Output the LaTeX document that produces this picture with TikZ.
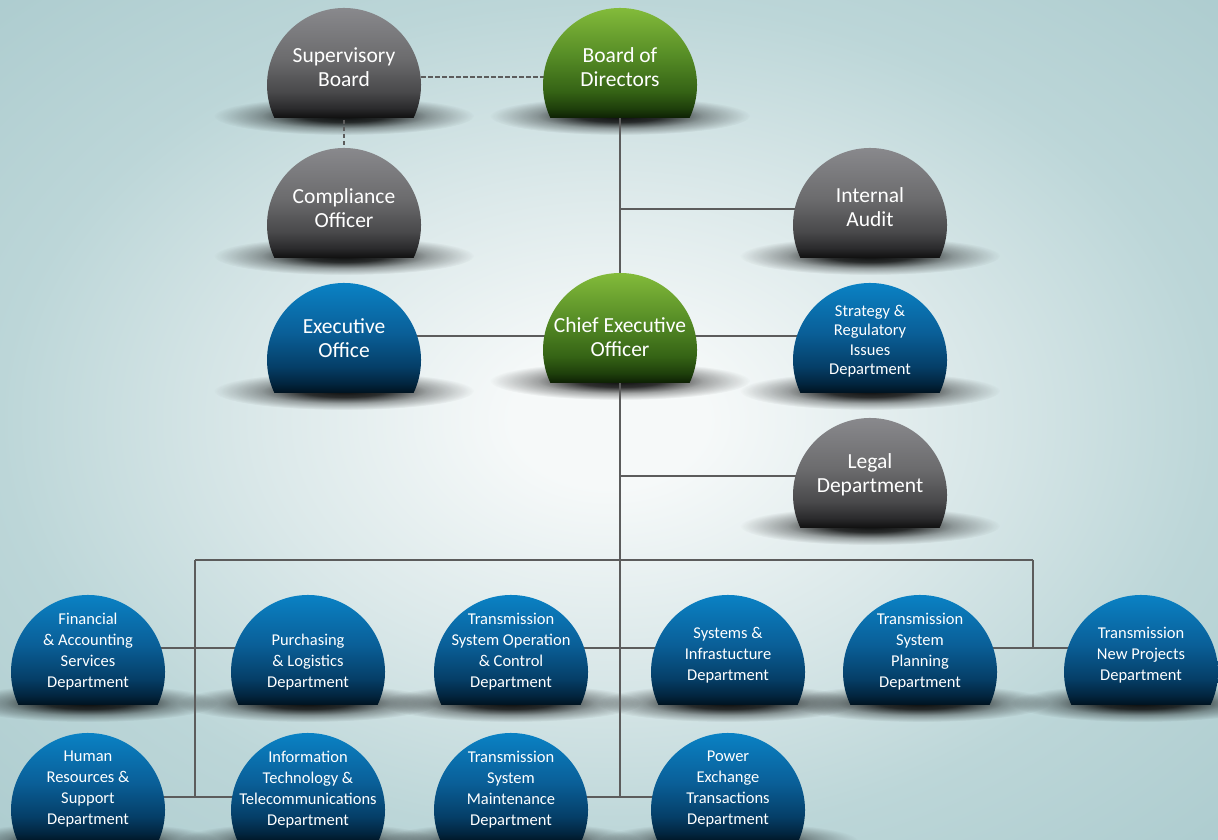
\documentclass[tikz,border=0pt]{standalone}
\usepackage{fontspec}
\setmainfont{Carlito}
\usetikzlibrary{calc,fadings}
\definecolor{bgA}{HTML}{F6F9F9}
\definecolor{bgB}{HTML}{DCE9EA}
\definecolor{bgC}{HTML}{BCD6D8}
\definecolor{bgD}{HTML}{ADCCCF}
\definecolor{bluA}{HTML}{00121F}
\definecolor{bluB}{HTML}{02253F}
\definecolor{bluC}{HTML}{053F68}
\definecolor{bluD}{HTML}{0A5F98}
\definecolor{bluE}{HTML}{0A89CE}
\definecolor{gryA}{HTML}{0F0F0F}
\definecolor{gryB}{HTML}{2A2A2C}
\definecolor{gryC}{HTML}{4A4A4C}
\definecolor{gryD}{HTML}{6C6C6E}
\definecolor{gryE}{HTML}{8F8F93}
\definecolor{grnA}{HTML}{0D1F04}
\definecolor{grnB}{HTML}{1E3F0B}
\definecolor{grnC}{HTML}{356315}
\definecolor{grnD}{HTML}{548A25}
\definecolor{grnE}{HTML}{8DC63F}
\definecolor{linec}{HTML}{5C5C5C}
\pgfdeclareverticalshading{bluedome}{100bp}{color(0bp)=(bluA); color(25bp)=(bluA); color(29bp)=(bluB); color(36bp)=(bluC); color(50bp)=(bluD); color(75bp)=(bluE); color(100bp)=(bluE)}
\pgfdeclareverticalshading{graydome}{100bp}{color(0bp)=(gryA); color(25bp)=(gryA); color(29bp)=(gryB); color(36bp)=(gryC); color(50bp)=(gryD); color(75bp)=(gryE); color(100bp)=(gryE)}
\pgfdeclareverticalshading{greendome}{100bp}{color(0bp)=(grnA); color(25bp)=(grnA); color(29bp)=(grnB); color(36bp)=(grnC); color(50bp)=(grnD); color(75bp)=(grnE); color(100bp)=(grnE)}
\pgfdeclareradialshading{bgshade}{\pgfpointorigin}{color(0bp)=(bgA); color(4bp)=(bgA); color(14bp)=(bgB); color(25bp)=(bgC); color(36bp)=(bgD); color(50bp)=(bgD)}
\pgfdeclareradialshading{shfade}{\pgfpointorigin}{color(0bp)=(white); color(8bp)=(white!85!black); color(16bp)=(white!35!black); color(25bp)=(black); color(50bp)=(black)}
\pgfdeclarefading{shadowfade}{\pgfuseshading{shfade}}
\pgfdeclarelayer{bglayer}
\pgfdeclarelayer{shadowlayer}
\pgfdeclarelayer{linelayer}
\pgfsetlayers{bglayer,shadowlayer,linelayer,main}
\tikzset{
  domecircle/.style={circle, minimum size=154pt, inner sep=0pt},
  bigtxt/.style={text=white, align=center, inner sep=0pt, font=\fontsize{21.5}{24}\selectfont},
  smalltxt/.style={text=white, align=center, inner sep=0pt, font=\fontsize{16.5}{21}\selectfont},
  strattxt/.style={text=white, align=center, inner sep=0pt, font=\fontsize{16.5}{19.5}\selectfont},
  conn/.style={draw=linec, line width=2pt},
  dconn/.style={draw=linec, line width=1.5pt, dash pattern=on 4.5pt off 2.5pt},
}
\newcommand\orgdome[7]{%
  \begin{pgfonlayer}{shadowlayer}
    \fill[black, opacity=0.95, path fading=shadowfade] (#2,#3-31) ellipse [x radius=130, y radius=19];
  \end{pgfonlayer}
  \shade[shading=#4] (#2,#3) ++(-25.37:77) arc[start angle=-25.37, end angle=205.37, radius=77] -- cycle;
  \node[domecircle] (#1) at (#2,#3) {};
  \node[#7] (#1-t) at ([yshift=#5]#1.center) {#6};
}
\begin{document}
\begin{tikzpicture}[x=1pt,y=1pt]
\useasboundingbox (0,0) rectangle (1218,840);
\begin{pgfonlayer}{bglayer}
  \shade[shading=bgshade] (0,0) rectangle (1218,840);
\end{pgfonlayer}

\orgdome{sup}{344}{755}{graydome}{18pt}{Supervisory\\Board}{bigtxt}
\orgdome{bod}{620}{755}{greendome}{18pt}{Board of\\Directors}{bigtxt}
\orgdome{comp}{344}{615}{graydome}{17pt}{Compliance\\Officer}{bigtxt}
\orgdome{audit}{870}{615}{graydome}{18pt}{Internal\\Audit}{bigtxt}
\orgdome{exec}{344}{480}{bluedome}{22pt}{Executive\\Office}{bigtxt}
\orgdome{ceo}{620}{490}{greendome}{12.5pt}{Chief Executive\\Officer}{bigtxt}
\orgdome{strat}{870}{480}{bluedome}{19pt}{Strategy \&\\Regulatory\\Issues\\Department}{strattxt}
\orgdome{legal}{870}{345}{graydome}{20pt}{Legal\\Department}{bigtxt}

\orgdome{fin}{88}{168}{bluedome}{20.5pt}{Financial\\\& Accounting\\Services\\Department}{smalltxt}
\orgdome{pur}{308}{168}{bluedome}{10pt}{Purchasing\\\& Logistics\\Department}{smalltxt}
\orgdome{tso}{511}{168}{bluedome}{20.5pt}{Transmission\\System Operation\\\& Control\\Department}{smalltxt}
\orgdome{sys}{728}{168}{bluedome}{17pt}{Systems \&\\Infrastucture\\Department}{smalltxt}
\orgdome{plan}{920}{168}{bluedome}{20.5pt}{Transmission\\System\\Planning\\Department}{smalltxt}
\orgdome{newp}{1141}{168}{bluedome}{17pt}{Transmission\\New Projects\\Department}{smalltxt}

\orgdome{hr}{88}{30}{bluedome}{20.5pt}{Human\\Resources \&\\Support\\Department}{smalltxt}
\orgdome{it}{308}{30}{bluedome}{20.5pt}{Information\\Technology \&\\Telecommunications\\Department}{smalltxt}
\orgdome{tsm}{511}{30}{bluedome}{20.5pt}{Transmission\\System\\Maintenance\\Department}{smalltxt}
\orgdome{pow}{728}{30}{bluedome}{20.5pt}{Power\\Exchange\\Transactions\\Department}{smalltxt}

\coordinate (busL) at (195,280);
\coordinate (busR) at (1033,280);

\begin{pgfonlayer}{linelayer}
  \draw[dconn] ($(sup.center)+(0,8)$) -- ($(bod.center)+(0,8)$);
  \draw[dconn] (sup.center) -- (comp.center);
  \draw[conn] (bod.center) -- (ceo.center);
  \draw[conn] ($(bod.center |- audit.center)+(0,16)$) -- ($(audit.center)+(0,16)$);
  \draw[conn] ($(exec.center)+(0,24)$) -- ($(strat.center)+(0,24)$);
  \draw[conn] (ceo.center) -- ($(ceo.center |- tsm.center)+(0,13)$);
  \draw[conn] ($(ceo.center |- legal.center)+(0,19)$) -- ($(legal.center)+(0,19)$);
  \draw[conn] (busL) -- (busR);
  \draw[conn] (busL) -- ($(busL |- hr.center)+(0,13)$);
  \draw[conn] (busR) -- ($(busR |- newp.center)+(0,24)$);
  \draw[conn] ($(fin.center)+(0,24)$) -- ($(pur.center)+(0,24)$);
  \draw[conn] ($(tso.center)+(0,24)$) -- ($(sys.center)+(0,24)$);
  \draw[conn] ($(plan.center)+(0,24)$) -- ($(newp.center)+(0,24)$);
  \draw[conn] ($(hr.center)+(0,13)$) -- ($(it.center)+(0,13)$);
  \draw[conn] ($(tsm.center)+(0,13)$) -- ($(pow.center)+(0,13)$);
\end{pgfonlayer}
\end{tikzpicture}
\end{document}
